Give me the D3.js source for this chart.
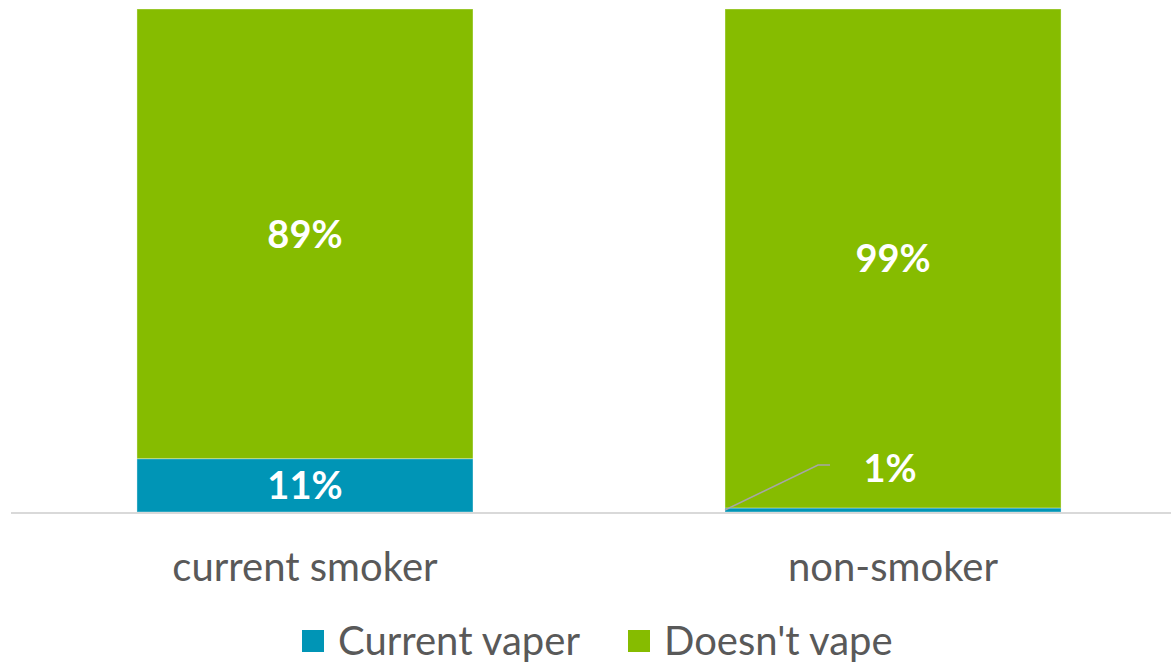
<!DOCTYPE html>
<html>
<head>
<meta charset="utf-8">
<script src="https://cdn.jsdelivr.net/npm/d3@7"></script>
<style>
  html, body { margin: 0; padding: 0; background: #fff; }
  svg { display: block; font-family: Lato, "Open Sans", sans-serif; }
</style>
</head>
<body>
<svg id="chart"></svg>
<script>
// data (shares in %, labels show rounded values)
const categories = ["current smoker", "non-smoker"];
const seriesNames = ["Current vaper", "Doesn't vape"];
const currentVaper = [10.6, 0.8];
const doesntVape = [89.4, 99.2];
const seriesColors = ["#0095b6", "#86bc00"];

const width = 1171;
const height = 663;
const marginTop = 9;
const baseline = 512;

const svg = d3.select("#chart")
  .attr("width", width)
  .attr("height", height);

const x = d3.scaleBand()
  .domain(categories)
  .range([27, 1171])
  .paddingInner(0.4286)
  .paddingOuter(0.187);

const y = d3.scaleLinear()
  .domain([0, 100])
  .range([baseline, marginTop]);

const rows = categories.map((c, i) => ({
  category: c,
  "Current vaper": currentVaper[i],
  "Doesn't vape": doesntVape[i]
}));

const stacked = d3.stack().keys(seriesNames)(rows);

// bars
const groups = svg.append("g")
  .selectAll("g")
  .data(stacked)
  .join("g")
  .attr("fill", (d, i) => seriesColors[i]);

groups.selectAll("rect")
  .data(d => d)
  .join("rect")
  .attr("x", d => x(d.data.category))
  .attr("y", d => y(d[1]))
  .attr("width", x.bandwidth())
  .attr("height", d => y(d[0]) - y(d[1]))
  .attr("stroke", "rgba(255,255,255,0.35)")
  .attr("stroke-width", 1);

// category axis line
svg.append("line")
  .attr("x1", 11)
  .attr("x2", width)
  .attr("y1", baseline + 1)
  .attr("y2", baseline + 1)
  .attr("stroke", "#d9d9d9")
  .attr("stroke-width", 2);

// category labels
svg.append("g")
  .selectAll("text")
  .data(categories)
  .join("text")
  .attr("x", d => x(d) + x.bandwidth() / 2)
  .attr("y", 581)
  .attr("text-anchor", "middle")
  .attr("fill", "#595959")
  .attr("font-size", 40)
  .text(d => d);

// data labels
const labels = svg.append("g")
  .attr("fill", "#fff")
  .attr("font-weight", "bold")
  .attr("font-size", 38)
  .attr("text-anchor", "middle");

stacked.forEach((s, si) => {
  s.forEach(d => {
    const cx = x(d.data.category) + x.bandwidth() / 2;
    const segH = y(d[0]) - y(d[1]);
    const txt = Math.round(d[1] - d[0]) + "%";
    if (segH > 30) {
      labels.append("text")
        .attr("x", cx)
        .attr("y", (y(d[0]) + y(d[1])) / 2)
        .attr("dy", "0.36em")
        .text(txt);
    } else {
      // small segment: label moved up with a leader line
      const ly = y(d[1]) - 40;
      const lx = cx - 3;
      svg.append("polyline")
        .attr("points", [
          [x(d.data.category), y(d[1]) + 2],
          [lx - 72, ly - 3],
          [lx - 60, ly - 3]
        ].map(p => p.join(",")).join(" "))
        .attr("fill", "none")
        .attr("stroke", "#a6a6a6")
        .attr("stroke-width", 1.5);
      labels.append("text")
        .attr("x", lx)
        .attr("y", ly)
        .attr("dy", "0.36em")
        .text(txt);
    }
  });
});

// legend
const legendItems = [
  { name: seriesNames[0], color: seriesColors[0], x: 302 },
  { name: seriesNames[1], color: seriesColors[1], x: 628 }
];
const legend = svg.append("g")
  .selectAll("g")
  .data(legendItems)
  .join("g")
  .attr("transform", d => `translate(${d.x},641)`);

legend.append("rect")
  .attr("x", 0)
  .attr("y", -11)
  .attr("width", 22)
  .attr("height", 22)
  .attr("fill", d => d.color);

legend.append("text")
  .attr("x", 36)
  .attr("dy", "0.36em")
  .attr("fill", "#595959")
  .attr("font-size", 40)
  .text(d => d.name);
</script>
</body>
</html>
